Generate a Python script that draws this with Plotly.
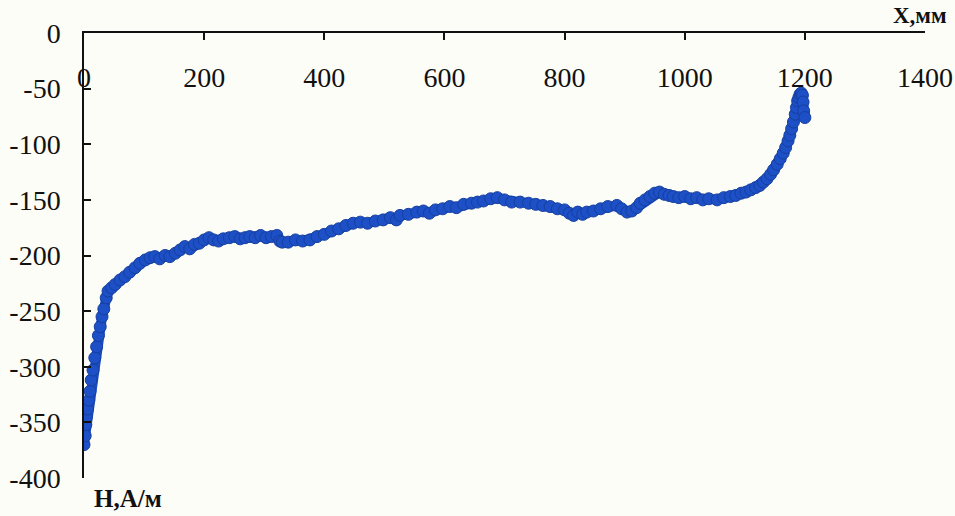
import plotly.graph_objects as go

x_mm = [0, 2, 3, 4, 6, 8, 10, 12, 15, 18, 21, 24, 27, 30, 33, 37, 40, 46, 52, 60,
        68, 76, 85, 93, 102, 110, 118, 126, 135, 143, 152, 160, 168, 176, 184, 192,
        200, 208, 216, 224, 232, 242, 251, 260, 268, 276, 285, 294, 303, 312, 321,
        326, 330, 340, 352, 364, 376, 388, 400, 412, 424, 436, 448, 460, 472, 485,
        498, 510, 520, 526, 540, 554, 565, 575, 585, 597, 609, 620, 632, 645, 655,
        665, 677, 688, 700, 712, 726, 740, 752, 764, 776, 788, 800, 808, 815, 822,
        830, 837, 848, 860, 872, 887, 895, 904, 912, 920, 926, 934, 942, 950, 958,
        966, 974, 981, 990, 1000, 1010, 1020, 1030, 1040, 1054, 1065, 1076, 1085,
        1094, 1102, 1110, 1118, 1125, 1131, 1137, 1143, 1148, 1154, 1159, 1164,
        1168, 1172, 1175, 1178, 1181, 1184, 1186, 1188, 1190, 1192, 1194, 1196,
        1197, 1198, 1200]
h_am = [-370, -362, -352, -345, -338, -330, -322, -312, -303, -292, -282, -272, -264,
        -255, -248, -238, -232, -229, -226, -222, -219, -215, -211, -207, -204, -202,
        -201, -203, -200, -201, -198, -195, -192, -194, -190, -189, -186, -184, -186,
        -187, -185, -184, -183, -185, -184, -183, -184, -182, -184, -183, -182, -187,
        -188, -188, -186, -187, -186, -183, -181, -178, -176, -173, -171, -170, -171,
        -169, -168, -166, -168, -164, -163, -161, -160, -162, -159, -158, -156, -157,
        -154, -153, -152, -151, -149, -148, -150, -152, -152, -153, -154, -155, -156,
        -158, -159, -162, -164, -161, -163, -161, -160, -158, -156, -155, -158, -161,
        -160, -157, -153, -150, -147, -144, -143, -145, -146, -147, -148, -147, -149,
        -148, -150, -149, -150, -148, -147, -146, -144, -143, -141, -139, -137, -134,
        -131, -127, -123, -118, -113, -108, -103, -97, -92, -86, -80, -73, -67, -61,
        -58, -55, -54, -56, -62, -70, -76]

x_ticks = [0, 200, 400, 600, 800, 1000, 1200, 1400]
y_ticks = [0, -50, -100, -150, -200, -250, -300, -350, -400]

fig = go.Figure()
fig.add_trace(go.Scatter(
    x=x_mm, y=h_am, mode="lines+markers",
    line=dict(color="#1b4cc0", width=10),
    marker=dict(size=12, color="#1d50c6", line=dict(color="#163f9f", width=1)),
    showlegend=False, hoverinfo="skip",
))

serif = "Liberation Serif"
fig.update_layout(
    width=955, height=516,
    margin=dict(l=84, r=30, t=33, b=38, autoexpand=False),
    paper_bgcolor="#fdfdf7", plot_bgcolor="#fdfdf7",
    font=dict(family=serif, color="#111111"),
    xaxis=dict(
        range=[0, 1400], side="top", tickvals=x_ticks,
        ticktext=[str(v) for v in x_ticks], automargin=False,
        showline=True, linecolor="#111111", linewidth=1.5,
        ticks="inside", ticklen=7, tickwidth=1.5, tickcolor="#111111",
        ticklabelposition="inside", ticklabelstandoff=30, ticklabeloverflow="allow",
        tickfont=dict(family=serif, size=28, color="#111111"),
        showgrid=False, zeroline=False, mirror=False,
    ),
    yaxis=dict(
        range=[-400, 0], tickvals=y_ticks, automargin=False,
        ticktext=[str(v) for v in y_ticks],
        showline=True, linecolor="#111111", linewidth=1.5,
        ticks="inside", ticklen=7, tickwidth=1.5, tickcolor="#111111",
        ticklabelstandoff=16,
        tickfont=dict(family=serif, size=28, color="#111111"),
        showgrid=False, zeroline=False,
    ),
    annotations=[
        dict(text="<b>Х,мм</b>", xref="paper", yref="paper", x=1.0, y=1.0,
             xanchor="right", yanchor="bottom", yshift=3, xshift=24, showarrow=False,
             font=dict(family=serif, size=23, color="#111111")),
        dict(text="<b>Н,А/м</b>", xref="paper", yref="paper", x=0.0, y=0.0,
             xanchor="left", yanchor="top", xshift=8, yshift=-5, showarrow=False,
             font=dict(family=serif, size=25, color="#111111")),
    ],
)

fig.write_html("out.html")
